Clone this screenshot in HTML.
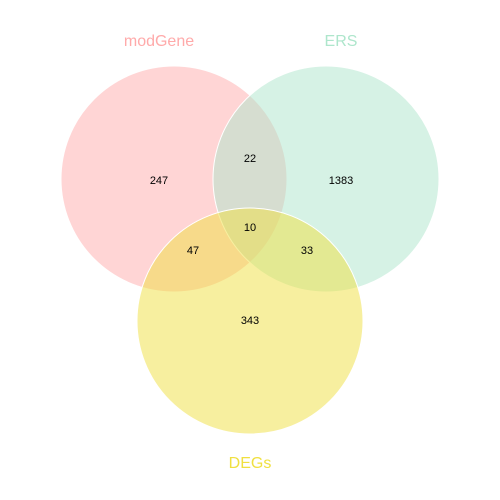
<!DOCTYPE html>
<html><head><meta charset="utf-8"><style>html,body{margin:0;padding:0;background:#fff}svg{display:block}</style></head>
<body>
<svg id="venn" width="500" height="500" font-family="Liberation Sans, sans-serif"></svg>
<script>
const setNames = ["modGene", "ERS", "DEGs"];
const regionKeys = ["A", "B", "C", "AB", "AC", "BC", "ABC"];
const regionCounts = [247, 1383, 343, 22, 47, 33, 10];

const ns = "http://www.w3.org/2000/svg";
const svg = document.getElementById("venn");
const R = 113;
const centers = [[174, 179], [326, 179], [250, 321]];
const fills = ["#ffacac", "#aee6cc", "#f0e040"];
const labelColors = ["#ffaaaa", "#aee6cc", "#f0e040"];
const labelPos = [[159, 46], [341, 46], [250, 468]];

centers.forEach((c, i) => {
  const el = document.createElementNS(ns, "circle");
  el.setAttribute("cx", c[0]); el.setAttribute("cy", c[1]); el.setAttribute("r", R);
  el.setAttribute("fill", fills[i]); el.setAttribute("fill-opacity", "0.5");
  el.setAttribute("stroke", "#ffffff"); el.setAttribute("stroke-width", "1");
  
  
  svg.appendChild(el);
});
setNames.forEach((n, i) => {
  const t = document.createElementNS(ns, "text");
  t.setAttribute("x", labelPos[i][0]); t.setAttribute("y", labelPos[i][1]);
  t.setAttribute("text-anchor", "middle"); t.setAttribute("font-size", "16");
  t.setAttribute("fill", labelColors[i]); t.textContent = n;
  
  
  svg.appendChild(t);
});
const regionPos = {A:[159,184], B:[341,184], C:[250,324], AB:[250,162], AC:[193,254], BC:[307,254], ABC:[250,231]};
regionKeys.forEach((k, i) => {
  const t = document.createElementNS(ns, "text");
  t.setAttribute("x", regionPos[k][0]); t.setAttribute("y", regionPos[k][1]);
  t.setAttribute("text-anchor", "middle"); t.setAttribute("font-size", "11");
  t.setAttribute("fill", "#000"); t.textContent = regionCounts[i];
  
  
  svg.appendChild(t);
});
</script>
</body></html>
